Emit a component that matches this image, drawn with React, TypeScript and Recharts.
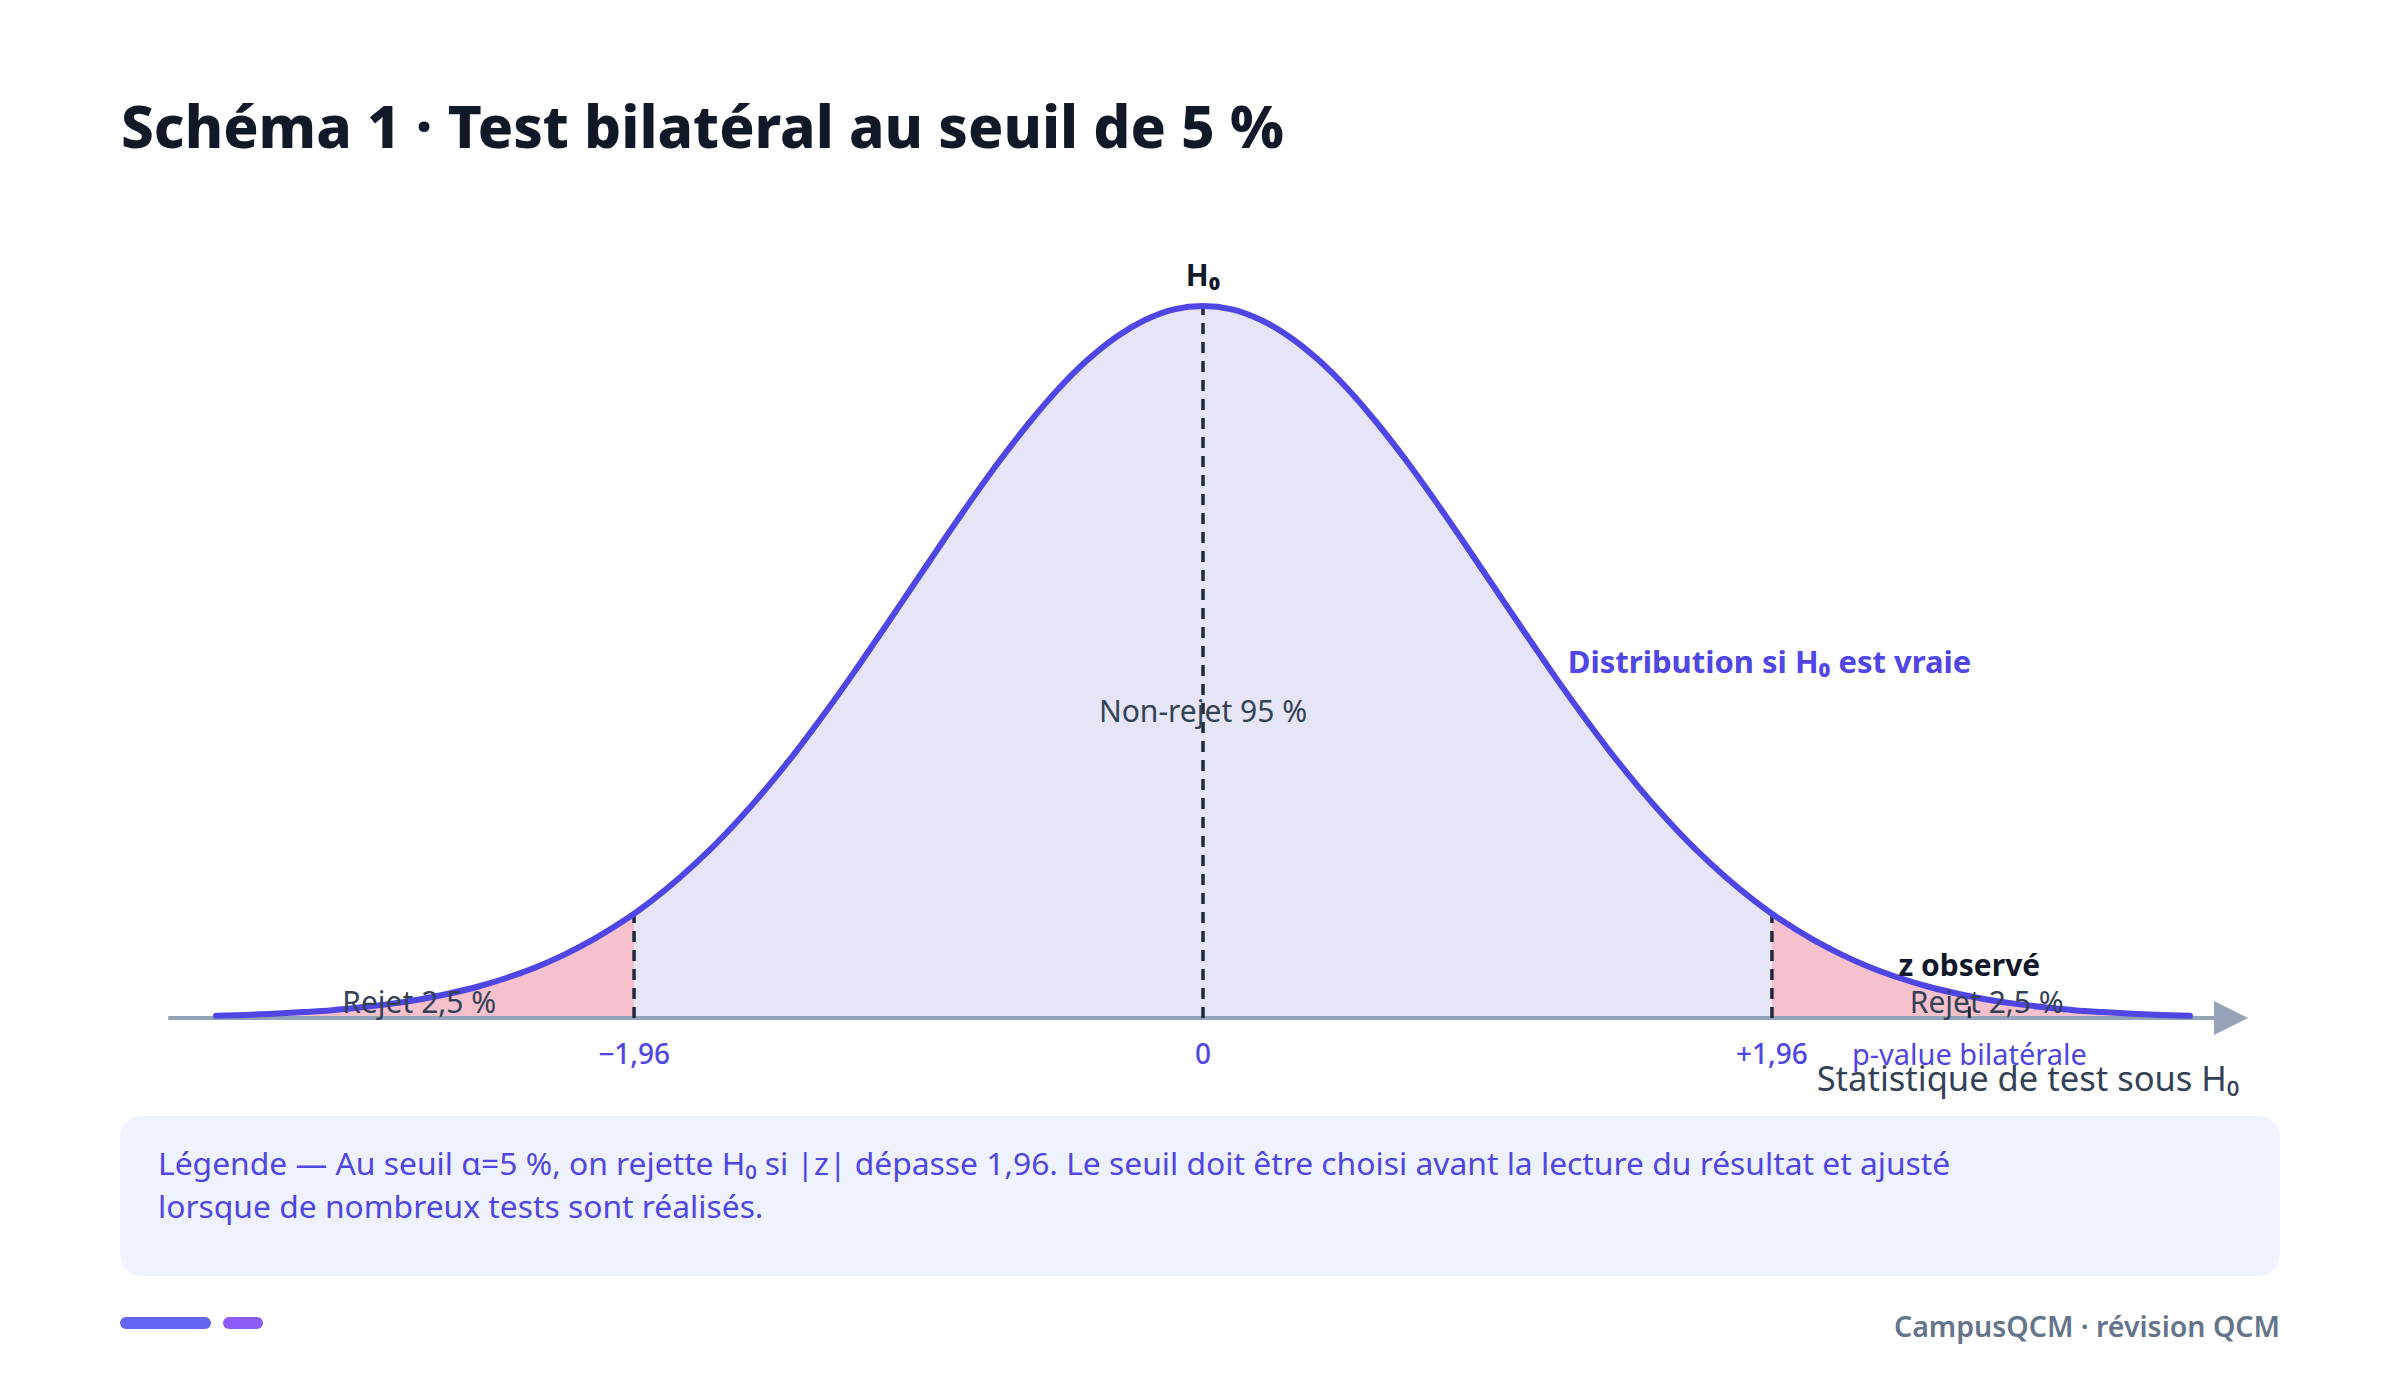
import {
  Area,
  ComposedChart,
  Line,
  ReferenceDot,
  ReferenceLine,
  XAxis,
  YAxis,
} from 'recharts';

// standard normal density
const Z_VALUES = [
  -3.4, -3.3, -3.2, -3.1, -3.0, -2.9, -2.8, -2.7, -2.6, -2.5, -2.4, -2.3, -2.2, -2.1, -2.0,
  -1.96,
  -1.9, -1.8, -1.7, -1.6, -1.5, -1.4, -1.3, -1.2, -1.1, -1.0, -0.9, -0.8, -0.7, -0.6, -0.5,
  -0.4, -0.3, -0.2, -0.1,
  0,
  0.1, 0.2, 0.3, 0.4, 0.5, 0.6, 0.7, 0.8, 0.9, 1.0, 1.1, 1.2, 1.3, 1.4, 1.5, 1.6, 1.7, 1.8, 1.9,
  1.96,
  2.0, 2.1, 2.2, 2.3, 2.4, 2.5, 2.6, 2.7, 2.8, 2.9, 3.0, 3.1, 3.2, 3.3, 3.4,
];
const DENSITY = [
  0.0012, 0.0017, 0.0024, 0.0033, 0.0044, 0.006, 0.0079, 0.0104, 0.0136, 0.0175, 0.0224, 0.0283,
  0.0355, 0.044, 0.054,
  0.0584,
  0.0656, 0.079, 0.094, 0.1109, 0.1295, 0.1497, 0.1714, 0.1942, 0.2179, 0.242, 0.2661, 0.2897,
  0.3123, 0.3332, 0.3521, 0.3683, 0.3814, 0.391, 0.397,
  0.3989,
  0.397, 0.391, 0.3814, 0.3683, 0.3521, 0.3332, 0.3123, 0.2897, 0.2661, 0.242, 0.2179, 0.1942,
  0.1714, 0.1497, 0.1295, 0.1109, 0.094, 0.079, 0.0656,
  0.0584,
  0.054, 0.044, 0.0355, 0.0283, 0.0224, 0.0175, 0.0136, 0.0104, 0.0079, 0.006, 0.0044, 0.0033,
  0.0024, 0.0017, 0.0012,
];

const CRITICAL_Z = 1.96;
const CRITICAL_DENSITY = 0.0584;
const PEAK_DENSITY = 0.3989;
const TICK_VALUES = [-1.96, 0, 1.96];
const TICK_LABELS = ['−1,96', '0', '+1,96'];
const Z_OBSERVED = 2.64;
const REJECT_LABEL_Z = [-2.7, 2.7];
const AXIS_START = -3.565;
const AXIS_END = 3.6;

const TITLE = 'Schéma 1 · Test bilatéral au seuil de 5 %';
const LEGEND_LINES = [
  'Légende — Au seuil α=5 %, on rejette H₀ si |z| dépasse 1,96. Le seuil doit être choisi avant la lecture du résultat et ajusté',
  'lorsque de nombreux tests sont réalisés.',
];
const FOOTER = 'CampusQCM · révision QCM';

const INDIGO = '#4f46e5';
const SLATE = '#334155';
const FONT = '"Noto Sans", "Open Sans", sans-serif';

const rows = Z_VALUES.map((z, i) => ({
  z,
  density: DENSITY[i],
  center: Math.abs(z) <= CRITICAL_Z ? DENSITY[i] : null,
  left: z <= -CRITICAL_Z ? DENSITY[i] : null,
  right: z >= CRITICAL_Z ? DENSITY[i] : null,
}));

function textShape(
  text: string,
  opts: { dx?: number; dy?: number; size: number; weight?: number; fill: string; anchor?: string },
) {
  return (p: any) => (
    <text
      x={p.cx + (opts.dx ?? 0)}
      y={p.cy + (opts.dy ?? 0)}
      textAnchor={opts.anchor ?? 'middle'}
      dominantBaseline="central"
      fontFamily={FONT}
      fontSize={opts.size}
      fontWeight={opts.weight ?? 400}
      fill={opts.fill}
    >
      {text}
    </text>
  );
}

function ZTick(props: any) {
  const i = TICK_VALUES.indexOf(props.payload.value);
  return (
    <text
      x={props.x}
      y={props.y + 35}
      textAnchor="middle"
      dominantBaseline="central"
      fontFamily={FONT}
      fontSize={28}
      fontWeight={500}
      fill={INDIGO}
    >
      {TICK_LABELS[i]}
    </text>
  );
}

export default function App() {
  return (
    <div
      style={{
        position: 'absolute',
        left: 0,
        top: 0,
        width: 2400,
        height: 1385,
        background: '#ffffff',
        overflow: 'hidden',
        fontFamily: FONT,
      }}
    >
      <div
        style={{
          position: 'absolute',
          left: 121,
          top: 96,
          fontSize: 58.4,
          lineHeight: '59px',
          fontWeight: 800,
          color: '#111827',
          whiteSpace: 'nowrap',
        }}
      >
        {TITLE}
      </div>

      <div style={{ position: 'absolute', left: 0, top: 0 }}>
        <ComposedChart
          width={2400}
          height={1110}
          data={rows}
          margin={{ top: 304, right: 152, bottom: 32, left: 158 }}
        >
          <XAxis
            dataKey="z"
            type="number"
            domain={[-3.6, 3.6]}
            ticks={TICK_VALUES}
            axisLine={false}
            tickLine={false}
            tickSize={0}
            tickMargin={0}
            height={60}
            tick={<ZTick />}
          />
          <YAxis hide type="number" domain={[0, 0.4]} />

          <Area
            dataKey="center"
            type="monotone"
            stroke="none"
            fill="#e6e5f8"
            fillOpacity={1}
            isAnimationActive={false}
          />
          <Area
            dataKey="left"
            type="monotone"
            stroke="none"
            fill="#f6c1cc"
            fillOpacity={1}
            isAnimationActive={false}
          />
          <Area
            dataKey="right"
            type="monotone"
            stroke="none"
            fill="#f6c1cc"
            fillOpacity={1}
            isAnimationActive={false}
          />

          <ReferenceLine
            segment={[
              { x: AXIS_START, y: 0 },
              { x: 3.5, y: 0 },
            ]}
            stroke="#94a3b8"
            strokeWidth={4}
          />
          <ReferenceDot
            x={AXIS_END}
            y={0}
            r={0}
            shape={(p: any) => (
              <polygon
                points={`${p.cx},${p.cy} ${p.cx - 34},${p.cy - 17} ${p.cx - 34},${p.cy + 17}`}
                fill="#94a3b8"
              />
            )}
          />

          {[-CRITICAL_Z, CRITICAL_Z].map((z) => (
            <ReferenceLine
              key={z}
              segment={[
                { x: z, y: 0 },
                { x: z, y: CRITICAL_DENSITY },
              ]}
              stroke="#1e293b"
              strokeWidth={3.5}
              strokeDasharray="11 8"
            />
          ))}
          <ReferenceLine
            segment={[
              { x: 0, y: 0 },
              { x: 0, y: PEAK_DENSITY },
            ]}
            stroke="#1e293b"
            strokeWidth={3.5}
            strokeDasharray="11 8"
          />
          <ReferenceLine
            segment={[
              { x: Z_OBSERVED, y: 0 },
              { x: Z_OBSERVED, y: 0.0065 },
            ]}
            stroke="#1e293b"
            strokeWidth={3}
          />

          <Line
            dataKey="density"
            type="monotone"
            stroke={INDIGO}
            strokeWidth={6}
            strokeLinecap="round"
            dot={false}
            activeDot={false}
            isAnimationActive={false}
          />

          <ReferenceDot
            x={0}
            y={PEAK_DENSITY}
            r={0}
            ifOverflow="visible"
            shape={textShape('H₀', { dy: -31, size: 30, weight: 700, fill: '#111827' })}
          />
          <ReferenceDot
            x={1.25}
            y={0.2}
            r={0}
            shape={textShape('Distribution si H₀ est vraie', {
              dx: 2,
              size: 31,
              weight: 700,
              fill: INDIGO,
              anchor: 'start',
            })}
          />
          <ReferenceDot
            x={0}
            y={0.172}
            r={0}
            shape={textShape('Non-rejet 95 %', { size: 30, fill: SLATE })}
          />
          {REJECT_LABEL_Z.map((z) => (
            <ReferenceDot
              key={z}
              x={z}
              y={0.009}
              r={0}
              shape={textShape('Rejet 2,5 %', { size: 30, fill: SLATE })}
            />
          ))}
          <ReferenceDot
            x={Z_OBSERVED}
            y={0.03}
            r={0}
            shape={textShape('z observé', { size: 30, weight: 700, fill: '#0f172a' })}
          />
          <ReferenceDot
            x={Z_OBSERVED}
            y={0}
            r={0}
            shape={textShape('p-value bilatérale', { dy: 35, size: 29, fill: INDIGO })}
          />
          <ReferenceDot
            x={AXIS_END}
            y={0}
            r={0}
            shape={textShape('Statistique de test sous H₀', {
              dx: -9,
              dy: 59,
              size: 34.5,
              fill: SLATE,
              anchor: 'end',
            })}
          />
        </ComposedChart>
      </div>

      <div
        style={{
          position: 'absolute',
          left: 120,
          top: 1116,
          width: 2160,
          height: 160,
          borderRadius: 22,
          background: '#eef2ff',
          boxSizing: 'border-box',
          padding: '25px 38px 0',
          color: INDIGO,
          fontSize: 31.8,
          lineHeight: '43px',
        }}
      >
        {LEGEND_LINES.map((line) => (
          <div key={line} style={{ whiteSpace: 'nowrap' }}>
            {line}
          </div>
        ))}
      </div>

      <div
        style={{
          position: 'absolute',
          left: 120,
          top: 1317,
          width: 91,
          height: 12,
          borderRadius: 6,
          background: '#6366f1',
        }}
      />
      <div
        style={{
          position: 'absolute',
          left: 223,
          top: 1317,
          width: 40,
          height: 12,
          borderRadius: 6,
          background: '#8b5cf6',
        }}
      />
      <div
        style={{
          position: 'absolute',
          right: 120,
          top: 1306,
          fontSize: 28.5,
          lineHeight: '40px',
          fontWeight: 600,
          color: '#64748b',
          whiteSpace: 'nowrap',
        }}
      >
        {FOOTER}
      </div>
    </div>
  );
}
